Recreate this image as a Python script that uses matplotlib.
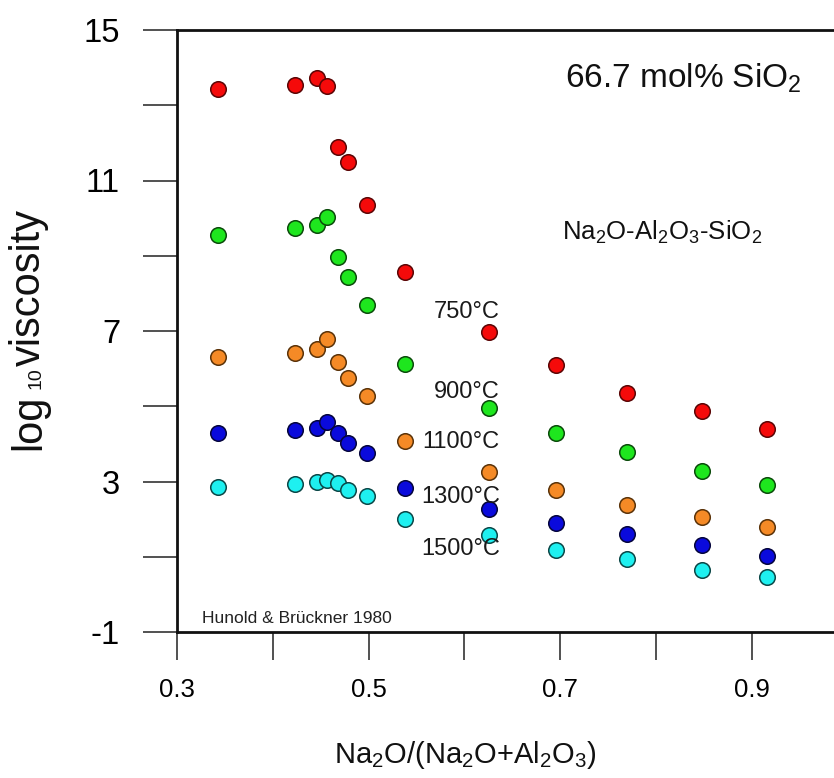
import matplotlib
matplotlib.use("Agg")
import matplotlib.pyplot as plt
import numpy as np

plt.rcParams['font.family'] = ['Liberation Sans', 'DejaVu Sans']
plt.rcParams['mathtext.fontset'] = 'custom'
plt.rcParams['mathtext.rm'] = 'Liberation Sans'
plt.rcParams['mathtext.it'] = 'Liberation Sans'
plt.rcParams['mathtext.default'] = 'rm'

# Na2O/(Na2O+Al2O3) ratio of each melt composition
ratio = [0.343, 0.423, 0.446, 0.457, 0.468, 0.478, 0.498,
         0.538, 0.626, 0.696, 0.770, 0.848, 0.916]

# log10 viscosity at each isotherm
temps = ['750°C', '900°C', '1100°C', '1300°C', '1500°C']
visc_750 = [13.43, 13.54, 13.72, 13.51, 11.89, 11.49, 10.35,
            8.57, 6.97, 6.10, 5.35, 4.87, 4.40]
visc_900 = [9.55, 9.74, 9.82, 10.03, 8.97, 8.43, 7.69,
            6.12, 4.95, 4.29, 3.78, 3.28, 2.91]
visc_1100 = [6.31, 6.42, 6.52, 6.79, 6.18, 5.75, 5.27,
             4.08, 3.25, 2.77, 2.38, 2.06, 1.79]
visc_1300 = [4.29, 4.37, 4.42, 4.58, 4.29, 4.02, 3.76,
             2.83, 2.27, 1.90, 1.60, 1.31, 1.02]
visc_1500 = [2.85, 2.93, 2.99, 3.04, 2.96, 2.77, 2.61,
             2.00, 1.58, 1.18, 0.94, 0.65, 0.46]

colors = ['#F50A0A', '#1EE61E', '#F58A26', '#0A0ADC', '#1EF0F0']
edges = ['#5A0505', '#0A4A0A', '#5A3208', '#05053C', '#0A4646']

# label anchor points (right end, baseline) for each isotherm
label_x = 0.637
label_y = [7.35, 5.22, 3.89, 2.43, 1.05]

x_ticks = [0.3, 0.4, 0.5, 0.6, 0.7, 0.8, 0.9, 1.0]
x_ticklabels = ['0.3', '', '0.5', '', '0.7', '', '0.9', '']
y_ticks = [-1, 1, 3, 5, 7, 9, 11, 13, 15]
y_ticklabels = ['-1', '', '3', '', '7', '', '11', '', '15']

W, H = 834, 778
fig = plt.figure(figsize=(W / 100, H / 100), dpi=100)
ax = fig.add_axes([177 / W, 1 - 632 / H, (847.6 - 177) / W, (632 - 30) / H])

series = [visc_750, visc_900, visc_1100, visc_1300, visc_1500]
for vals, c, ec in zip(series, colors, edges):
    ax.scatter(ratio, vals, s=125, color=c, edgecolors=ec, linewidths=1.1,
               zorder=3, clip_on=False)

for t, ly in zip(temps, label_y):
    ax.text(label_x, ly, t, ha='right', va='baseline', fontsize=17,
            color='#1a1a1a', zorder=4)

ax.text(0.705, 13.46, r'66.7 mol% SiO$_2$', ha='left', va='baseline',
        fontsize=24, color='#111111')
ax.text(0.702, 9.42, r'Na$_2$O-Al$_2$O$_3$-SiO$_2$', ha='left', va='baseline',
        fontsize=18.5, color='#111111')
ax.text(0.326, -0.76, 'Hunold & Brückner 1980', ha='left', va='baseline',
        fontsize=12.5, color='#222222')

ax.set_xlim(0.3, 1.0)
ax.set_ylim(-1, 15)
ax.set_xticks(x_ticks)
ax.set_xticklabels(x_ticklabels)
ax.set_yticks(y_ticks)
ax.set_yticklabels(y_ticklabels)

ax.tick_params(axis='y', direction='out', length=24.5, width=1.1,
               pad=16.5, labelsize=23.5, color='#222222')
ax.tick_params(axis='x', direction='out', length=20, width=1.1,
               pad=13, labelsize=18.5, color='#222222')
for side in ['left', 'bottom', 'top', 'right']:
    ax.spines[side].set_linewidth(2.0)
    ax.spines[side].set_color('#111111')

# axis titles
fig.text(465 / W, 1 - 763 / H, r'Na$_2$O/(Na$_2$O+Al$_2$O$_3$)',
         ha='center', va='baseline', fontsize=21, color='#111111')

ylab_x = 40 / W
fig.text(ylab_x, 1 - 450 / H, 'log', rotation=90, rotation_mode='anchor',
         ha='left', va='baseline', fontsize=30, color='#111111')
fig.text(ylab_x, 1 - 389 / H, '10', rotation=90, rotation_mode='anchor',
         ha='left', va='baseline', fontsize=14, color='#111111')
fig.text(ylab_x, 1 - 366 / H, 'viscosity', rotation=90, rotation_mode='anchor',
         ha='left', va='baseline', fontsize=30, color='#111111')

fig.savefig('out.png', dpi=100)
